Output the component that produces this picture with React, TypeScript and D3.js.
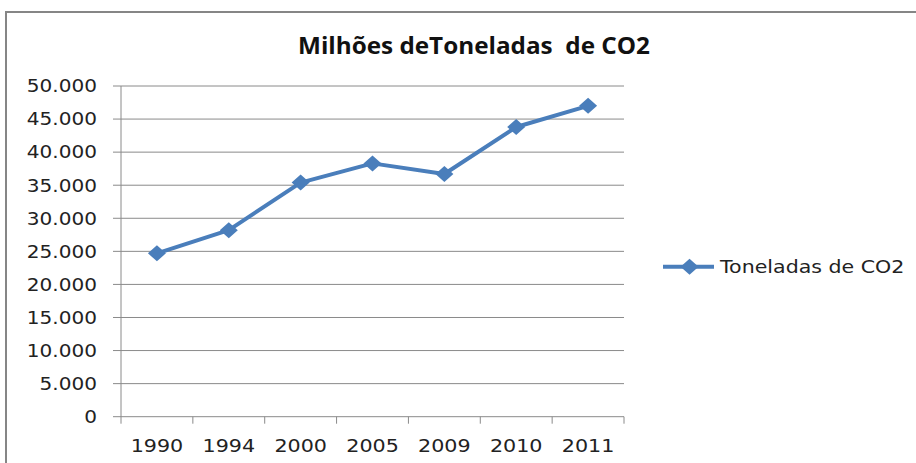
import { useEffect, useRef } from "react";
import * as d3 from "d3";

const years = ["1990", "1994", "2000", "2005", "2009", "2010", "2011"];
const co2Tonnes = [24700, 28200, 35400, 38300, 36700, 43800, 47000];
const yTicks = [0, 5000, 10000, 15000, 20000, 25000, 30000, 35000, 40000, 45000, 50000];
const chartTitle = "Milhões deToneladas  de CO2";
const seriesName = "Toneladas de CO2";

export default function App() {
  const svgRef = useRef<SVGSVGElement | null>(null);

  useEffect(() => {
    if (!svgRef.current) return;

    const width = 916;
    const height = 463;
    const plot = { left: 121, right: 624, top: 86, bottom: 416.7 };
    const blue = "#4a7ebb";
    const gray = "#8a8a8a";
    const font = "'DejaVu Sans', Verdana, sans-serif";
    const stretch = 1.18;

    const svg = d3.select(svgRef.current)
      .attr("width", width)
      .attr("height", height);

    svg.selectAll("*").remove();

    svg.append("rect").attr("width", width).attr("height", height).attr("fill", "#fff");

    // outer chart border (right and bottom edges fall outside the picture)
    svg.append("rect")
      .attr("x", 6).attr("y", 12)
      .attr("width", width + 20).attr("height", height + 20)
      .attr("fill", "none")
      .attr("stroke", "#868686")
      .attr("stroke-width", 2);

    const x = d3.scaleBand<string>()
      .domain(years)
      .range([plot.left, plot.right])
      .padding(0);

    const y = d3.scaleLinear()
      .domain([0, 50000])
      .range([plot.bottom, plot.top]);

    const fmt = d3.formatLocale({ decimal: ",", thousands: ".", grouping: [3], currency: ["", ""] }).format(",");

    // gridlines + left tick marks
    svg.append("g")
      .selectAll("line")
      .data(yTicks)
      .join("line")
      .attr("x1", plot.left - 8)
      .attr("x2", plot.right)
      .attr("y1", d => y(d))
      .attr("y2", d => y(d))
      .attr("stroke", gray)
      .attr("stroke-width", 1);

    // y axis line
    svg.append("line")
      .attr("x1", plot.left).attr("x2", plot.left)
      .attr("y1", plot.top).attr("y2", plot.bottom)
      .attr("stroke", gray);

    // x tick marks on category boundaries
    const bounds = [...years.map(d => x(d) as number), plot.right];
    svg.append("g")
      .selectAll("line")
      .data(bounds)
      .join("line")
      .attr("x1", d => d).attr("x2", d => d)
      .attr("y1", plot.bottom).attr("y2", plot.bottom + 7)
      .attr("stroke", gray);

    // y labels
    svg.append("g")
      .selectAll("g")
      .data(yTicks)
      .join("g")
      .attr("transform", d => `translate(97,${y(d) + 6.3}) scale(${stretch},1)`)
      .append("text")
      .attr("text-anchor", "end")
      .style("font-family", font)
      .style("font-size", "17px")
      .attr("fill", "#222")
      .text(d => fmt(d));

    // x labels
    svg.append("g")
      .selectAll("g")
      .data(years)
      .join("g")
      .attr("transform", d => `translate(${(x(d) as number) + x.bandwidth() / 2},451.5) scale(${stretch},1)`)
      .append("text")
      .attr("text-anchor", "middle")
      .style("font-family", font)
      .style("font-size", "17.5px")
      .attr("fill", "#222")
      .text(d => d);

    const diamond = (cx: number, cy: number) =>
      `M${cx},${cy - 8}L${cx + 9},${cy}L${cx},${cy + 8}L${cx - 9},${cy}Z`;

    const line = d3.line<number>()
      .x((_, i) => (x(years[i]) as number) + x.bandwidth() / 2)
      .y(d => y(d));

    svg.append("path")
      .datum(co2Tonnes)
      .attr("d", line)
      .attr("fill", "none")
      .attr("stroke", blue)
      .attr("stroke-width", 4)
      .attr("stroke-linejoin", "round");

    svg.append("g")
      .selectAll("path")
      .data(co2Tonnes)
      .join("path")
      .attr("d", (d, i) => diamond((x(years[i]) as number) + x.bandwidth() / 2, y(d)))
      .attr("fill", blue);

    // title
    svg.append("text")
      .attr("x", 298)
      .attr("y", 54.3)
      .attr("textLength", 352)
      .attr("lengthAdjust", "spacingAndGlyphs")
      .style("font-family", "'Open Sans', sans-serif")
      .style("font-weight", "bold")
      .style("font-size", "22.5px")
      .style("white-space", "pre")
      .attr("fill", "#111")
      .text(chartTitle);

    // legend
    const legend = svg.append("g").attr("transform", "translate(663,266.7)");
    legend.append("line")
      .attr("x1", 0).attr("x2", 51)
      .attr("stroke", blue).attr("stroke-width", 4);
    legend.append("path").attr("d", diamond(26.5, 0)).attr("fill", blue);
    legend.append("g")
      .attr("transform", `translate(57,6) scale(1.21,1)`)
      .append("text")
      .style("font-family", font)
      .style("font-size", "17px")
      .attr("fill", "#222")
      .text(seriesName);
  }, []);

  return (
    <div style={{ position: "absolute", left: 0, top: 0, width: 916, height: 463, overflow: "hidden" }}>
      <svg ref={svgRef} style={{ display: "block" }}></svg>
    </div>
  );
}
